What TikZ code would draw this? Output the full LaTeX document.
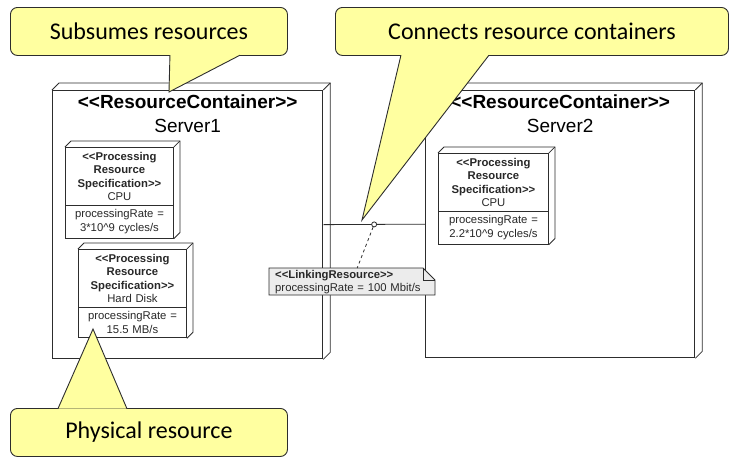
\documentclass[tikz,border=0pt]{standalone}
\usepackage{fontspec}
\setmainfont{Liberation Sans}[Ligatures=TeXOff]
\newfontfamily\calloutfont{Carlito}
\usetikzlibrary{shapes.multipart}

\definecolor{calloutyellow}{RGB}{255,255,160}
\definecolor{notegray}{RGB}{236,236,236}
\definecolor{edgegray}{RGB}{45,45,45}
\definecolor{specgray}{RGB}{40,40,40}

\tikzset{
  server/.style={draw=edgegray, line width=1.3pt, fill=white, minimum width=270pt, minimum height=268pt, inner sep=0pt},
  sidefaces/.style={draw=edgegray, line width=0.8pt},
  stereo/.style={font=\bfseries\fontsize{19}{22}\selectfont, inner sep=0pt},
  srvname/.style={font=\fontsize{19}{22}\selectfont, inner sep=0pt},
  spec/.style={rectangle split, rectangle split parts=2, draw=edgegray, line width=0.9pt, fill=white,
    text width=100pt, align=center, inner xsep=4pt, inner ysep=4pt, text=specgray,
    font=\fontsize{11.3}{13.5}\selectfont},
  notebox/.style={draw=edgegray, line width=0.8pt, fill=notegray},
  notetext/.style={text width=154pt, align=left, inner xsep=6pt, inner ysep=2pt, text=specgray,
    font=\fontsize{11.3}{13}\selectfont},
  dot/.style={circle, draw=edgegray, fill=white, line width=0.8pt, inner sep=0pt, minimum size=5pt},
  callout/.style={draw=edgegray, line width=0.9pt, fill=calloutyellow, rounded corners=7pt,
    minimum width=277pt, minimum height=48pt, inner sep=0pt, font=\calloutfont\fontsize{24}{28}\selectfont},
  tail/.style={draw=edgegray, line width=0.9pt, fill=calloutyellow, line join=miter}
}

% 3d look: top and right faces behind a box node
\newcommand{\boxdepth}[2]{%
  \draw[sidefaces] (#1.north west) -- ++(#2,-#2) -- ([shift={(#2,-#2)}]#1.north east)
    -- ([shift={(#2,-#2)}]#1.south east) -- (#1.south east);
  \draw[sidefaces] (#1.north east) -- ([shift={(#2,-#2)}]#1.north east);
}

\begin{document}
\begin{tikzpicture}[x=1pt,y=-1pt]
  \useasboundingbox (0,0) rectangle (735,463);

  % resource containers
  \node[server, anchor=north west] (srv1) at (52,90) {};
  \boxdepth{srv1}{7}
  \node[stereo, anchor=base] (srv1type) at ([yshift=-18pt]srv1.north) {<<ResourceContainer>>};
  \node[srvname, anchor=base] (srv1name) at ([yshift=-24pt]srv1type.base) {Server1};

  \node[server, minimum width=269pt, minimum height=267pt, anchor=north west] (srv2) at (425,90) {};
  \boxdepth{srv2}{7}
  \node[stereo, anchor=base] (srv2type) at ([yshift=-18pt]srv2.north) {<<ResourceContainer>>};
  \node[srvname, anchor=base] (srv2name) at ([yshift=-24pt]srv2type.base) {Server2};

  % processing resources
  \node[spec, anchor=north west] (cpu1) at (65,147)
    {\textbf{<<Processing}\\\textbf{Resource}\\\textbf{Specification>>}\\CPU
     \nodepart{two}processingRate =\\3*10\textasciicircum 9 cycles/s};
  \boxdepth{cpu1}{6}
  \node[spec, anchor=north west] (disk1) at (78,249)
    {\textbf{<<Processing}\\\textbf{Resource}\\\textbf{Specification>>}\\Hard Disk
     \nodepart{two}processingRate =\\15.5 MB/s};
  \boxdepth{disk1}{6}
  \node[spec, text width=102pt, anchor=north west] (cpu2) at (438,153)
    {\textbf{<<Processing}\\\textbf{Resource}\\\textbf{Specification>>}\\CPU
     \nodepart{two}processingRate =\\2.2*10\textasciicircum 9 cycles/s};
  \boxdepth{cpu2}{6}

  % linking resource
  \draw[draw=edgegray, line width=0.8pt] (srv1.east) -- node[dot] (linkdot) {} (srv2.west);
  \coordinate (linkcorner) at (269,268);
  \draw[notebox] (linkcorner) -- ++(154,0) -- ++(12,12) -- ++(0,15) -- ++(-166,0) -- cycle;
  \draw[sidefaces] (linkcorner) ++(154,0) |- ++(12,12);
  \node[notetext, anchor=north west] (link) at (linkcorner)
    {\textbf{<<LinkingResource>>}\\processingRate = 100 Mbit/s};
  \draw[draw=edgegray, line width=0.8pt, dashed] (linkdot) -- ([xshift=5pt]link.north);

  % callouts
  \node[callout, anchor=north west] (subsumes) at (10,7) {Subsumes resources};
  \coordinate (subsumestip) at (169,92);
  \draw[tail] ([xshift=21pt,yshift=0.7pt]subsumes.south) -- (subsumestip) -- ([xshift=91pt,yshift=0.7pt]subsumes.south);

  \node[callout, minimum width=393pt, anchor=north west] (connects) at (335,7) {Connects resource containers};
  \coordinate (connectstip) at (362,220);
  \draw[tail] ([xshift=-131pt,yshift=0.7pt]connects.south) -- (connectstip) -- ([xshift=-43pt,yshift=0.7pt]connects.south);

  \node[callout, anchor=north west] (physical) at (10,408) {Physical resource};
  \coordinate (physicaltip) at (93,329);
  \draw[tail] ([xshift=-91pt,yshift=-0.7pt]physical.north) -- (physicaltip) -- ([xshift=-22pt,yshift=-0.7pt]physical.north);
\end{tikzpicture}
\end{document}
